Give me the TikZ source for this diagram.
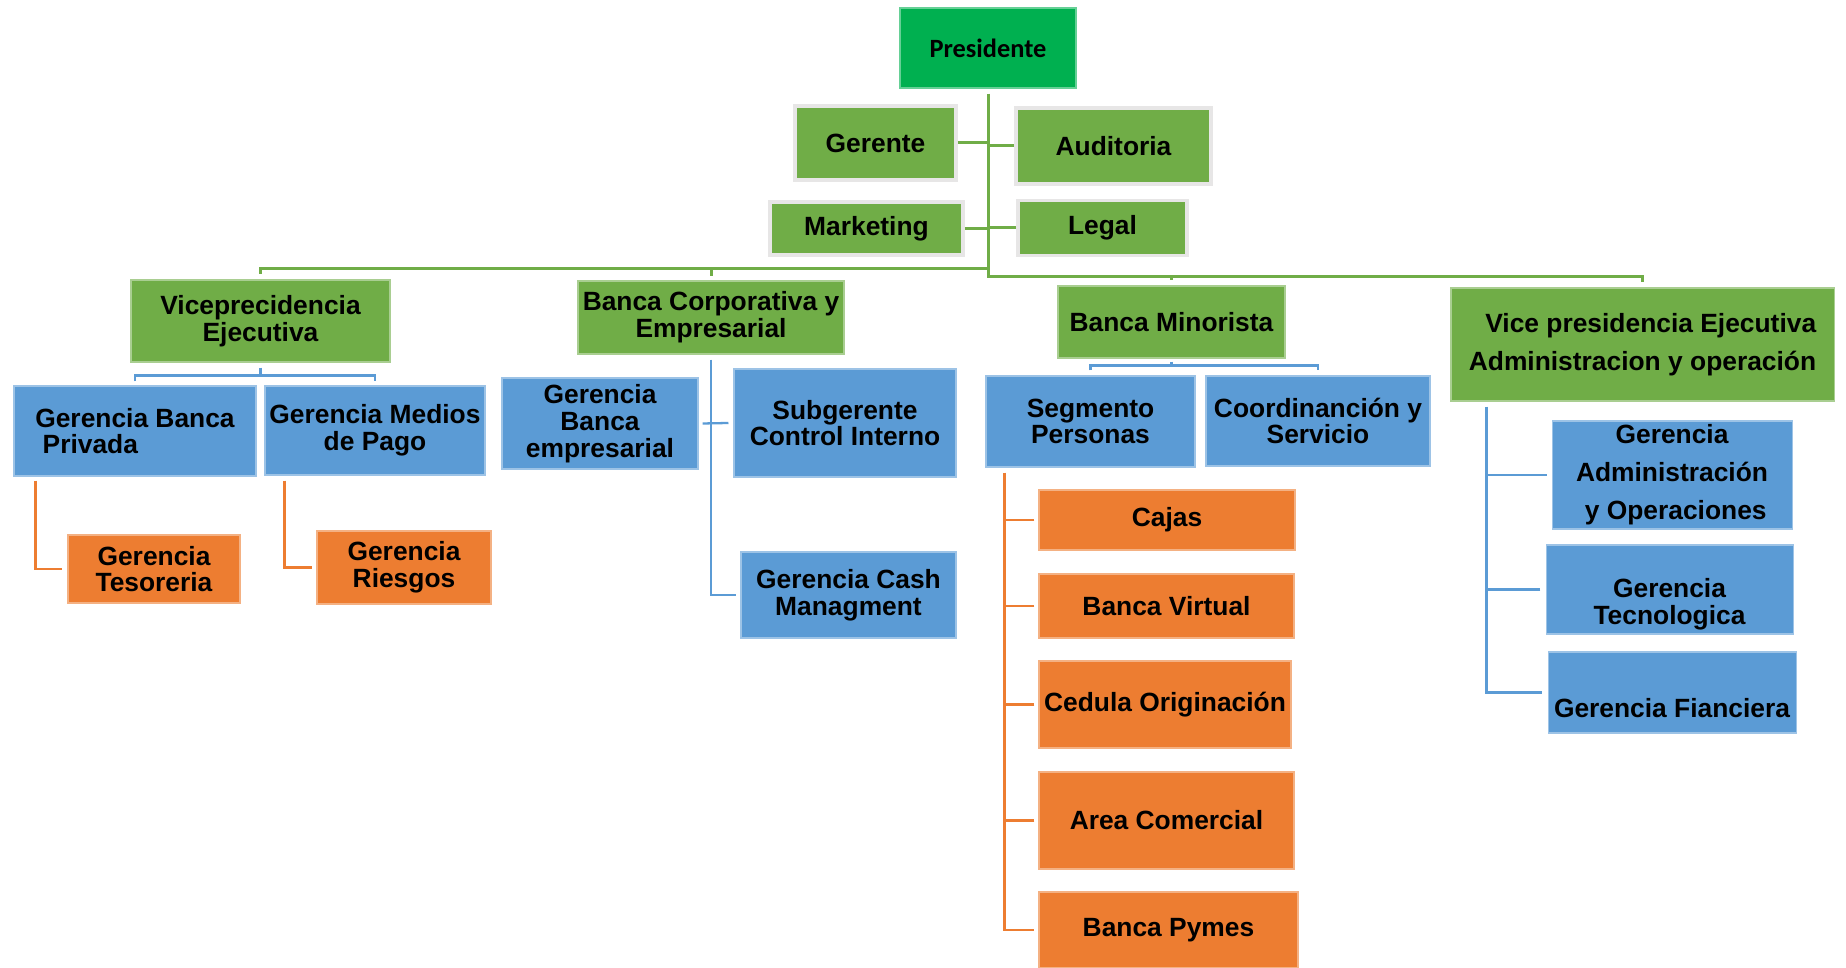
\documentclass[tikz,border=0pt]{standalone}
\usepackage{fontspec}
\setmainfont{Liberation Sans}
\newfontfamily\calibri{Carlito}
\usetikzlibrary{positioning, calc}

\definecolor{pgreen}{HTML}{00B050}
\definecolor{vgreen}{HTML}{70AD47}
\definecolor{vblue}{HTML}{5B9BD5}
\definecolor{vorange}{HTML}{ED7D31}
\definecolor{edgegray}{HTML}{E7E6E6}

\begin{document}
\begin{tikzpicture}[x=0.01cm, y=-0.01cm,
    box/.style={rectangle, inner sep=0.5pt, align=center, text=black,
        font=\bfseries\fontsize{7.5}{7.6}\selectfont},
    wh/.style 2 args={minimum width=#1*0.01cm, minimum height=#2*0.01cm},
    greenbox/.style={box, fill=vgreen, draw=vgreen!60!white, line width=0.3pt},
    staffbox/.style={box, fill=vgreen, draw=edgegray, line width=1.1pt},
    bluebox/.style={box, fill=vblue, draw=vblue!60!white, line width=0.3pt},
    orangebox/.style={box, fill=vorange, draw=vorange!60!white, line width=0.3pt},
    widelines/.style={font=\bfseries\fontsize{7.5}{10.8}\selectfont},
    sunk/.style={text height=#1},
    gline/.style={draw=vgreen, line width=0.85pt},
    bline/.style={draw=vblue, line width=0.65pt},
    oline/.style={draw=vorange, line width=0.65pt}
]
    \useasboundingbox (0,0) rectangle (1846,968);

    % top
    \node [box, wh={176}{80}, fill=pgreen, draw=pgreen!60!white, line width=0.3pt,
        font=\calibri\bfseries\fontsize{7.5}{7.6}\selectfont] (pres) at (988,48) {Presidente};
    \node [staffbox, wh={161}{74}] (ger) at (875.5,143) {Gerente};
    \node [staffbox, wh={195}{76}] (aud) at (1113.5,146) {Auditoria};
    \node [staffbox, wh={193}{53}] (mkt) at (866.5,228.5) {Marketing};
    \node [staffbox, wh={169}{55}] (leg) at (1102.5,228) {Legal};

    % vicepresidencias
    \node [greenbox, wh={259}{82}] (vpe) at (260.5,321) {Viceprecidencia\\Ejecutiva};
    \node [greenbox, wh={266}{73}] (bce) at (711,317.5) {Banca Corporativa y\\Empresarial};
    \node [greenbox, wh={227}{72}] (bmin) at (1171.5,322) {Banca Minorista};
    \node [greenbox, wh={383}{113}, widelines, align=right] (vpadm) at (1642.5,344.5)
        {Vice presidencia Ejecutiva\\Administracion y operación};

    % gerencias
    \node [bluebox, wh={242}{90}, align=left] (gbp) at (135,431) {Gerencia Banca\\\hspace*{.28em}Privada};
    \node [bluebox, wh={220}{89}] (gmp) at (375,430.5) {Gerencia Medios\\de Pago};
    \node [orangebox, wh={172}{68}] (gtes) at (154,569) {Gerencia\\Tesoreria};
    \node [orangebox, wh={174}{73}] (grie) at (404,567.5) {Gerencia\\Riesgos};

    \node [bluebox, wh={196}{91}] (gbe) at (600,423.5) {Gerencia\\Banca\\empresarial};
    \node [bluebox, wh={222}{108}] (sci) at (845,423) {Subgerente\\Control Interno};
    \node [bluebox, wh={215}{86}] (gcm) at (848.5,595) {Gerencia Cash\\Managment};

    \node [bluebox, wh={209}{91}] (seg) at (1090.5,421.5) {Segmento\\Personas};
    \node [bluebox, wh={224}{90}] (coord) at (1318,421) {Coordinanción y\\Servicio};
    \node [orangebox, wh={256}{60}] (cajas) at (1167,520) {Cajas};
    \node [orangebox, wh={255}{64}] (bvir) at (1166.5,606) {Banca Virtual};
    \node [orangebox, wh={252}{87}] (ced) at (1165,704.5) {Cedula Originación};
    \node [orangebox, wh={255}{97}] (acom) at (1166.5,820.5) {Area Comercial};
    \node [orangebox, wh={259}{76}] (bpym) at (1168.5,930) {Banca Pymes};

    \node [bluebox, wh={240}{108}, widelines] (gado) at (1672,475)
        {Gerencia\\Administración\\\hspace*{.28em}y Operaciones};
    \node [bluebox, wh={247}{89}, sunk=21.5pt] (gtec) at (1669.5,589.5) {Gerencia\\Tecnologica};
    \node [bluebox, wh={248}{81}, sunk=14.5pt] (gfin) at (1672,692.5) {Gerencia Fianciera};

    % green connectors
    \coordinate (lbus) at ($(pres.south)+(0,180)$);
    \coordinate (rbus) at ($(pres.south)+(0,188)$);
    \draw [gline] ($(pres.south)+(0,5)$) -- (rbus) -| ($(vpadm.north)-(0,5)$);
    \draw [gline] (lbus) -| ($(vpe.north)-(0,5)$);
    \draw [gline] (lbus -| bce.north) -- ($(bce.north)-(0,4)$);
    \draw [gline] (rbus -| bmin.north) -- ($(bmin.north)-(0,5)$);
    \foreach \n in {ger,mkt}
        \draw [gline] (\n.east) -- (\n.east -| pres.south);
    \foreach \n in {aud,leg}
        \draw [gline] (\n.west) -- (\n.west -| pres.south);

    % left branch
    \draw [bline] ($(vpe.south)+(0,5)$) -- ++(0,8) coordinate (vpebus);
    \draw [bline] ($(gbp.north)-(0,4)$) |- (vpebus) -| ($(gmp.north)-(0,4)$);
    \draw [oline] ($(gbp.south west)+(22,4)$) |- ($(gtes.west)-(5,0)$);
    \draw [oline] ($(gmp.south west)+(20,5)$) |- ($(grie.west)-(4,0)$);

    % banca corporativa
    \draw [bline] ($(bce.south)+(0,5)$) |- ($(gcm.west)-(4,0)$);
    \draw [bline] ($(gbe.east)+(4,0)$) -- ($(sci.west)-(5,0)$);

    % banca minorista
    \draw [bline] ($(bmin.south)+(0,3)$) -- ++(0,4) coordinate (minbus);
    \draw [bline] ($(seg.north)-(0,5)$) |- (minbus) -| ($(coord.north)-(0,5)$);
    \draw [oline] ($(seg.south west)+(19,5)$) coordinate (segtrunk) |- ($(bpym.west)-(4,0)$);
    \foreach \n in {cajas,bvir,ced,acom}
        \draw [oline] ($(\n.west)-(4,0)$) -- (\n.west -| segtrunk);

    % administracion
    \draw [bline] ($(vpadm.south west)+(36,5)$) coordinate (admtrunk) |- ($(gfin.west)-(5,0)$);
    \foreach \n in {gado,gtec}
        \draw [bline] ($(\n.west)-(5,0)$) -- (\n.west -| admtrunk);
\end{tikzpicture}
\end{document}
